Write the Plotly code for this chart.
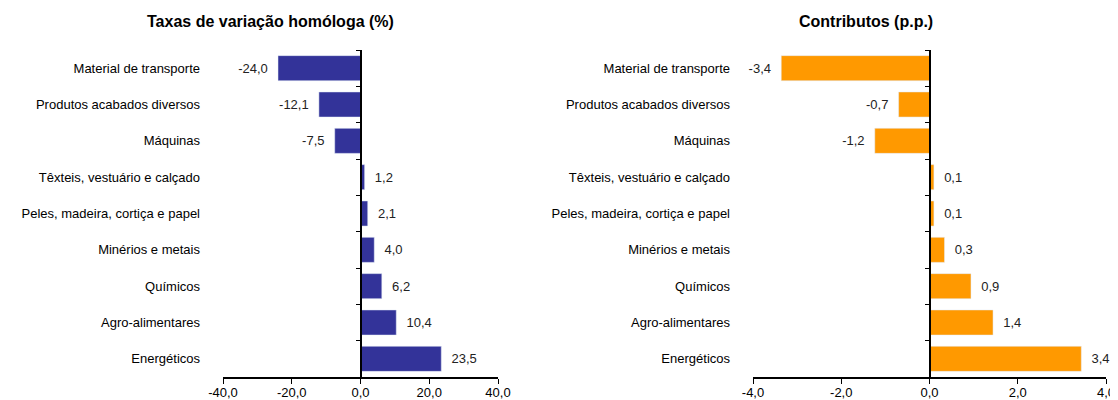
import plotly.graph_objects as go

categories = ["Material de transporte", "Produtos acabados diversos", "Máquinas",
              "Têxteis, vestuário e calçado", "Peles, madeira, cortiça e papel",
              "Minérios e metais", "Químicos", "Agro-alimentares", "Energéticos"]
taxas = [-24.0, -12.1, -7.5, 1.2, 2.1, 4.0, 6.2, 10.4, 23.5]
contributos = [-3.36, -0.7, -1.24, 0.1, 0.1, 0.34, 0.94, 1.44, 3.44]
ticks_taxas = [-40, -20, 0, 20, 40]
ticks_contrib = [-4, -2, 0, 2, 4]

NAVY = "#333399"
ORANGE = "#FF9900"
FONT = "Liberation Sans, Arial, sans-serif"

# the page body adds an 8px margin, so positions are shifted 8px back
W, H = 1118, 392


def fmt(v):
    return f"{v:.1f}".replace(".", ",")


def labels(vals):
    return ["\u00a0\u00a0" + fmt(v) if v >= 0 else fmt(v) + "\u00a0\u00a0" for v in vals]


left_dom = [215 / W, 490 / W]
right_dom = [745 / W, 1098 / W]

fig = go.Figure()
fig.add_bar(x=taxas, y=categories, orientation="h", marker_color=NAVY, width=0.69,
            text=labels(taxas), textposition="outside", cliponaxis=False,
            textfont=dict(size=13, color="#222"), xaxis="x", yaxis="y")
fig.add_bar(x=contributos, y=categories, orientation="h", marker_color=ORANGE, width=0.69,
            text=labels(contributos), textposition="outside", cliponaxis=False,
            textfont=dict(size=13, color="#222"), xaxis="x2", yaxis="y2")
# invisible copies so the zero-line axes get the same categories
fig.add_bar(x=taxas, y=categories, orientation="h", opacity=0, hoverinfo="skip",
            xaxis="x", yaxis="y3")
fig.add_bar(x=contributos, y=categories, orientation="h", opacity=0, hoverinfo="skip",
            xaxis="x2", yaxis="y4")

xcommon = dict(showgrid=False, zeroline=False, showline=True, linecolor="black",
               linewidth=2, ticks="outside", ticklen=5, tickcolor="black",
               tickfont=dict(size=13, color="black"), ticklabelstandoff=-3,
               automargin=False)
ycommon = dict(showgrid=False, zeroline=False, showline=False, ticks="",
               autorange="reversed", tickfont=dict(size=13, color="black"),
               ticklabelstandoff=22, automargin=False)
zcommon = dict(showgrid=False, zeroline=False, showline=True, linecolor="black",
               linewidth=2, ticks="outside", ticklen=4, tickcolor="black",
               tickson="boundaries", showticklabels=False, autorange="reversed",
               anchor="free", automargin=False)

fig.update_layout(
    width=W, height=H,
    margin=dict(l=0, r=0, t=42, b=23),
    paper_bgcolor="white", plot_bgcolor="white",
    font=dict(family=FONT, size=13, color="black"),
    separators=", ",
    showlegend=False, barmode="overlay",
    xaxis=dict(domain=left_dom, range=[-40, 40], anchor="y", tickvals=ticks_taxas,
               ticktext=[fmt(t) for t in ticks_taxas], **xcommon),
    xaxis2=dict(domain=right_dom, range=[-4, 4], anchor="y2", tickvals=ticks_contrib,
                ticktext=[fmt(t) for t in ticks_contrib], **xcommon),
    yaxis=dict(anchor="x", **ycommon),
    yaxis2=dict(anchor="x2", **ycommon),
    yaxis3=dict(overlaying="y", position=sum(left_dom) / 2, **zcommon),
    yaxis4=dict(overlaying="y2", position=sum(right_dom) / 2, **zcommon),
    annotations=[
        dict(text="<b>Taxas de variação homóloga (%)</b>", x=262 / W, y=1, yref="paper",
             yshift=29, xref="paper", xanchor="center", showarrow=False,
             font=dict(size=16), yanchor="middle"),
        dict(text="<b>Contributos (p.p.)</b>", x=858 / W, y=1, yref="paper",
             yshift=29, xref="paper", xanchor="center", showarrow=False,
             font=dict(size=16), yanchor="middle"),
    ],
)

fig.write_html("out.html")
